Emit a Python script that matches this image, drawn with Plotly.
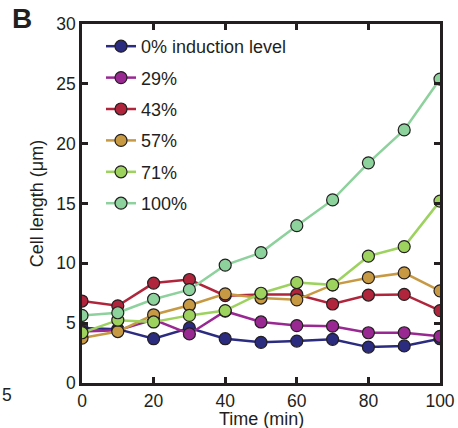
import plotly.graph_objects as go

# Time points (min)
time_min = [0, 10, 20, 30, 40, 50, 60, 70, 80, 90, 100]

# Cell length (µm) for each induction level
len_0 = [4.6, 4.5, 3.7, 4.6, 3.7, 3.4, 3.5, 3.65, 3.0, 3.1, 3.7]
len_29 = [4.3, 4.4, 5.3, 4.1, 6.0, 5.1, 4.8, 4.75, 4.2, 4.2, 3.9]
len_43 = [6.85, 6.45, 8.35, 8.65, 7.3, 7.4, 7.4, 6.6, 7.35, 7.4, 6.05]
len_57 = [3.75, 4.3, 5.7, 6.5, 7.45, 7.1, 6.95, 8.2, 8.8, 9.2, 7.7]
len_71 = [4.2, 5.25, 5.1, 5.65, 6.05, 7.5, 8.4, 8.2, 10.6, 11.4, 15.2]
len_100 = [5.65, 5.87, 7.0, 7.8, 9.85, 10.9, 13.15, 15.3, 18.4, 21.15, 25.4]

series_names = ["0% induction level", "29%", "43%", "57%", "71%", "100%"]
series_values = [len_0, len_29, len_43, len_57, len_71, len_100]
series_colors = ["#2B2B80", "#9A2893", "#B0253B", "#C79943", "#9DD25F", "#8DD19C"]

y_ticks = [0, 5, 10, 15, 20, 25, 30]
x_ticks = [0, 20, 40, 60, 80, 100]

FONT = "Liberation Sans, Arial, sans-serif"
INK = "#231F20"

# Plot area in pixels
L, R, T, B = 82, 18, 24, 45
W, H = 458, 428
PW, PH = W - L - R, H - T - B


def px_x(x):
    return (x - L) / PW


def px_y(y):
    return (H - B - y) / PH


fig = go.Figure()
for i, (name, vals, col) in enumerate(zip(series_names, series_values, series_colors)):
    fig.add_trace(go.Scatter(
        x=time_min, y=vals, name=name, mode="lines+markers",
        legendgroup=f"g{i}",
        line=dict(color=col, width=2.5),
        marker=dict(size=12, color=col, line=dict(color=INK, width=1.2)),
        cliponaxis=True,
    ))

axis_common = dict(
    showline=True, linecolor=INK, linewidth=2.5, mirror="ticks",
    ticks="inside", ticklen=6, tickwidth=2.5, tickcolor=INK,
    showgrid=False, zeroline=False, automargin=False,
    tickfont=dict(family=FONT, size=17.5, color=INK),
)

fig.update_xaxes(
    range=[0, 100], tickvals=x_ticks, ticktext=[str(v) for v in x_ticks],
    **axis_common,
)
fig.update_yaxes(
    range=[0, 30], tickvals=y_ticks, ticktext=[str(v) for v in y_ticks],
    title=dict(text="Cell length (μm)", font=dict(family=FONT, size=18, color=INK), standoff=8),
    **axis_common,
)

fig.update_layout(
    width=W, height=H,
    margin=dict(l=L, r=R, t=T, b=B, autoexpand=False),
    paper_bgcolor="white", plot_bgcolor="white",
    font=dict(family=FONT, color=INK),
    showlegend=True,
    legend=dict(
        x=px_x(101), y=px_y(28), xanchor="left", yanchor="top",
        bgcolor="rgba(0,0,0,0)", borderwidth=0,
        font=dict(family=FONT, size=18, color=INK),
        tracegroupgap=5, itemwidth=30,
    ),
    annotations=[
        # x-axis title
        dict(text="Time (min)", x=0.5, y=px_y(418.5),
             xref="paper", yref="paper", showarrow=False,
             xanchor="center", yanchor="middle",
             font=dict(family=FONT, size=18, color=INK)),
        # panel letter
        dict(text="<b>B</b>", x=px_x(10), y=px_y(19),
             xref="paper", yref="paper", showarrow=False,
             xanchor="left", yanchor="middle",
             font=dict(family=FONT, size=28, color=INK)),
        # tick label of the neighbouring panel at the left edge
        dict(text="5", x=px_x(0), y=px_y(395),
             xref="paper", yref="paper", showarrow=False,
             xanchor="left", yanchor="middle",
             font=dict(family=FONT, size=17.5, color=INK)),
    ],
)

fig.write_html("out.html")
